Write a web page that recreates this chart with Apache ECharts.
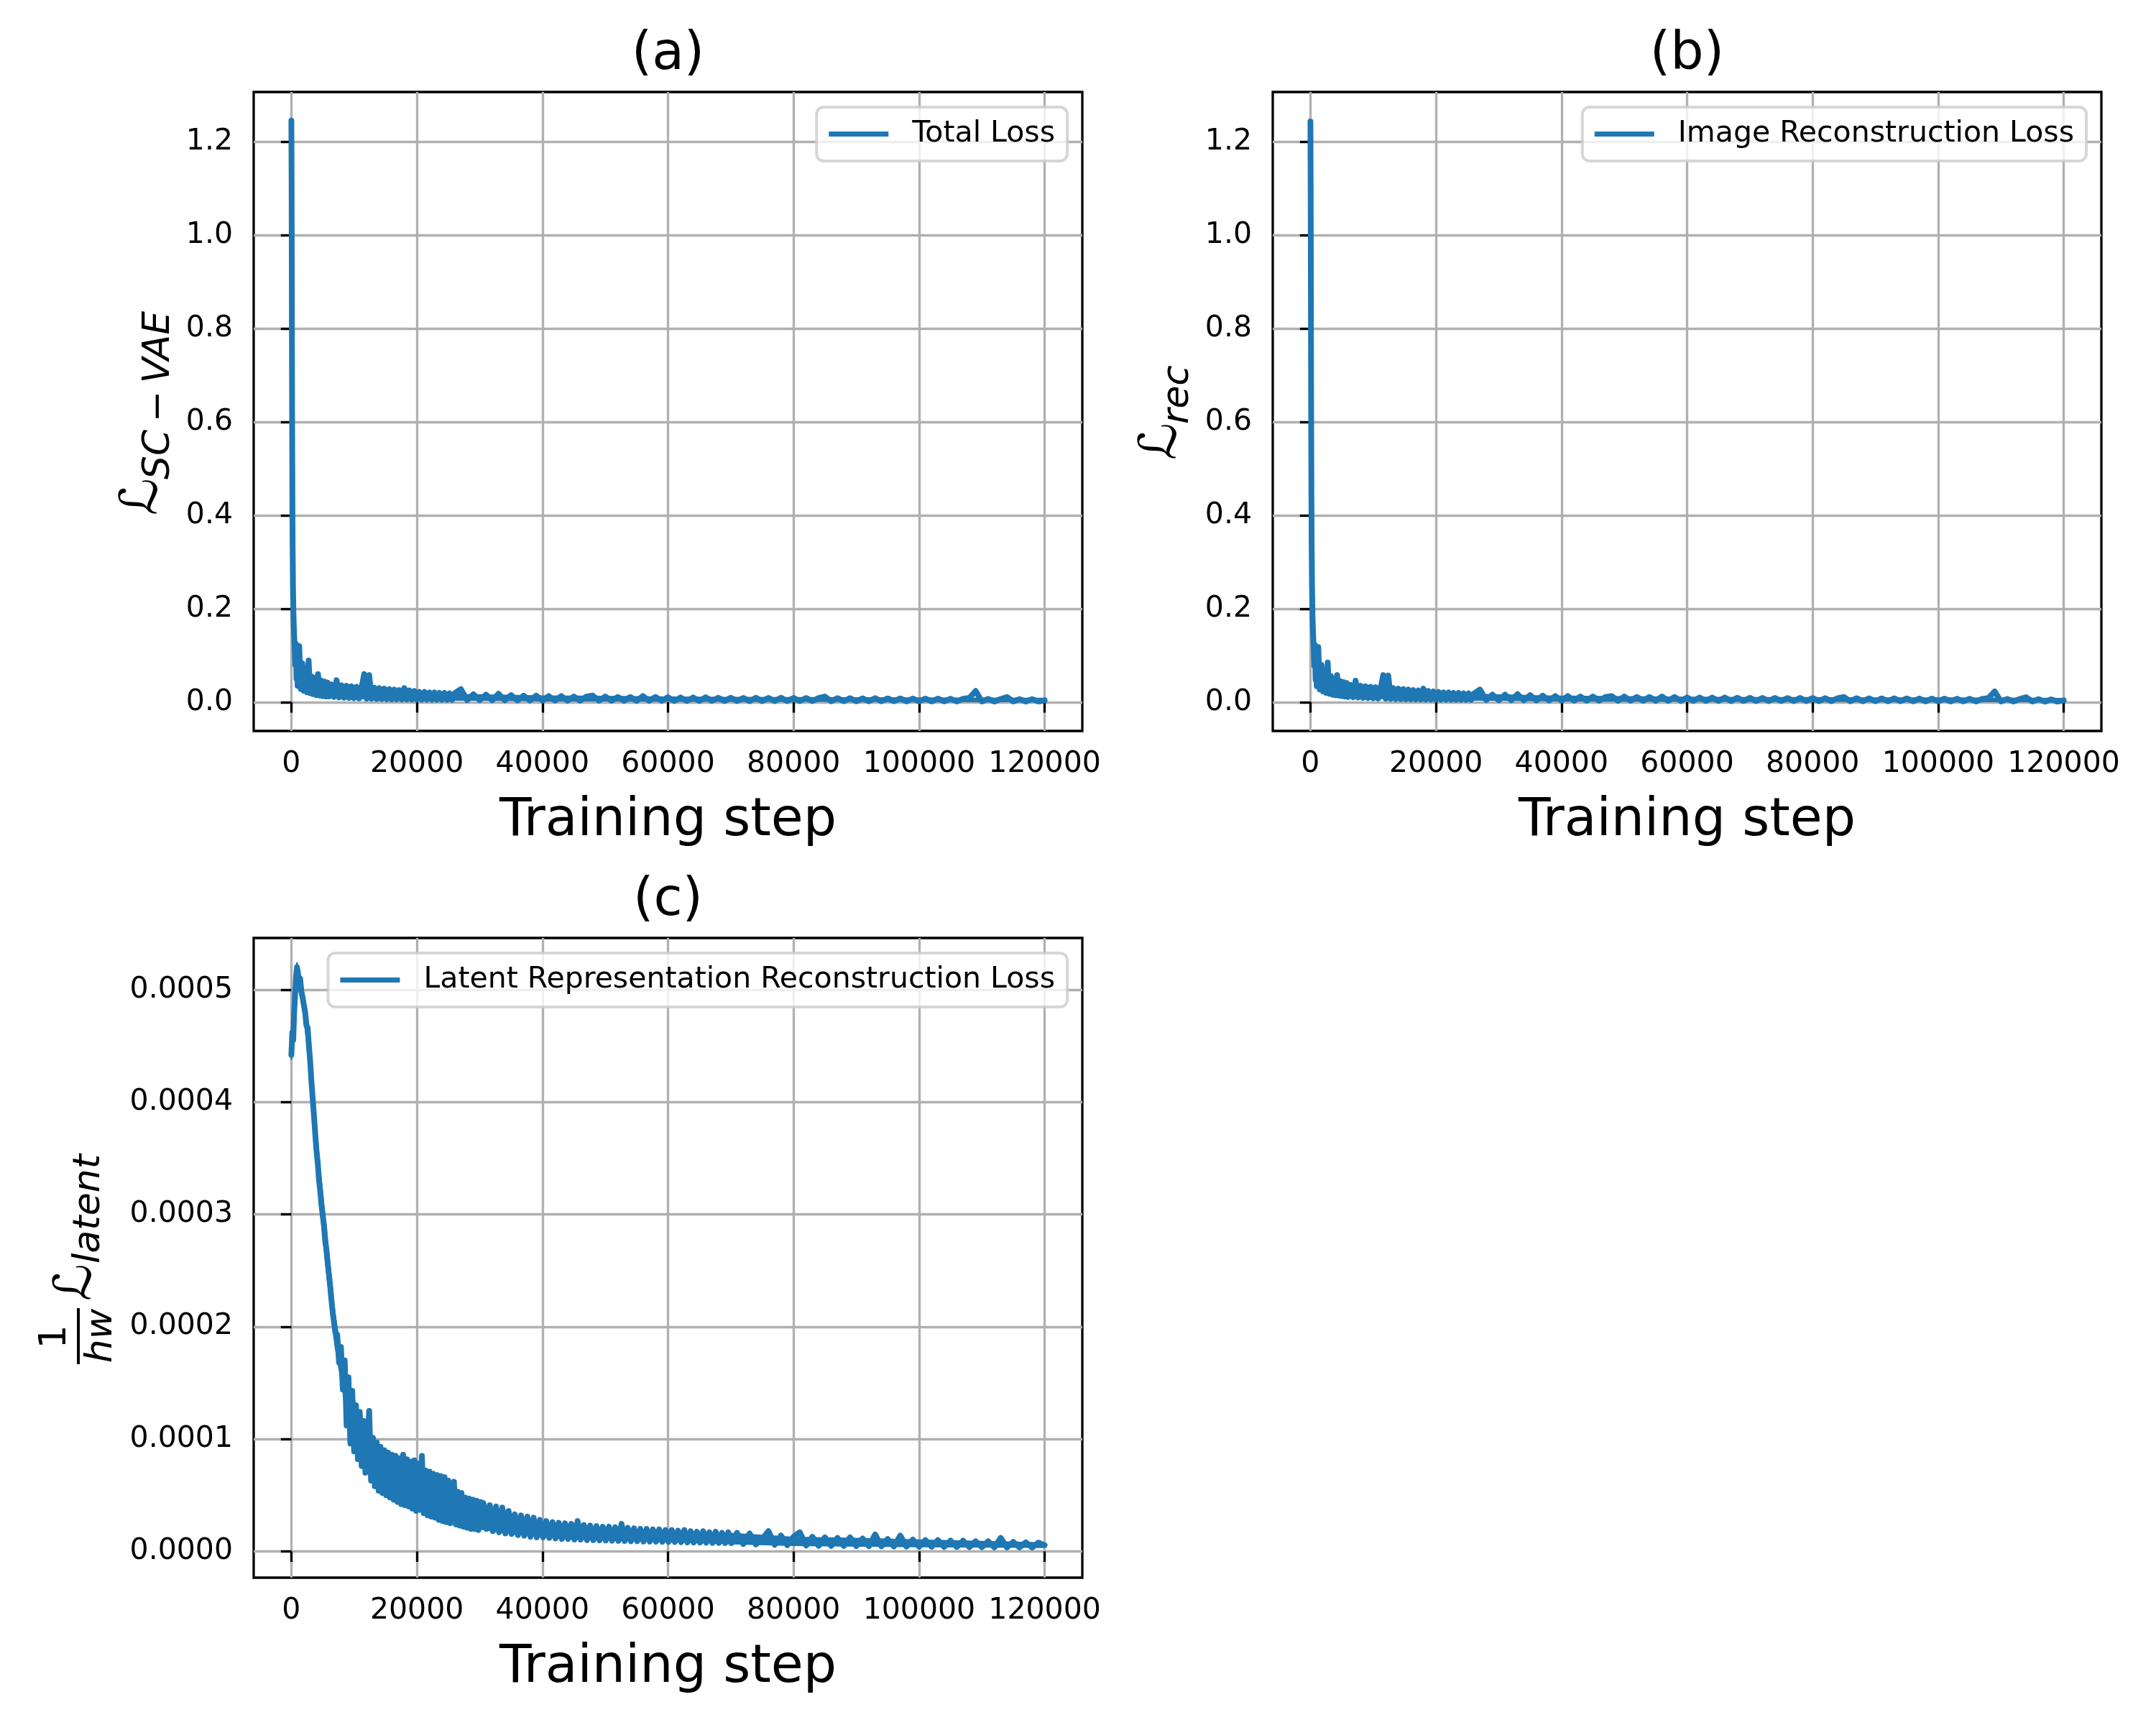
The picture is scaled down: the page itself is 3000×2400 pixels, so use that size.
<!DOCTYPE html>
<html>
<head>
<meta charset="utf-8">
<script src="https://cdn.jsdelivr.net/npm/echarts@6/dist/echarts.min.js"></script>
<style>
html,body{margin:0;padding:0;background:#ffffff;}
#chart{width:3000px;height:2400px;}
</style>
</head>
<body>
<div id="chart"></div>
<script>
// ---------------- DATA ----------------
const xTicks = [0, 20000, 40000, 60000, 80000, 100000, 120000];
const yTicksLoss = [0, 0.2, 0.4, 0.6, 0.8, 1.0, 1.2];
const yTicksLatent = [0, 0.0001, 0.0002, 0.0003, 0.0004, 0.0005];

const seriesNames = ['Total Loss', 'Image Reconstruction Loss', 'Latent Representation Reconstruction Loss'];
const panelTitles = ['(a)', '(b)', '(c)'];
const xAxisTitle = 'Training step';

// training steps for panels (a) and (b)
const stepsAB = [
  0, 40, 80, 120, 160, 200, 260, 330, 420, 520, 620, 720, 820, 920,
  1000, 1250, 1500, 1750, 2000, 2250, 2500, 2750, 3000, 3250,
  3500, 3750, 4000, 4250, 4500, 4750, 5000, 5250, 5500, 5750, 6000,
  6400, 6800, 7200, 7600, 8000, 8400, 8800, 9200, 9600, 10000,
  10400, 10800, 11200, 11600, 12000, 12400, 12800, 13200, 13600, 14000,
  14400, 14800, 15200, 15600, 16000, 16400, 16800, 17200, 17600, 18000,
  18400, 18800, 19200, 19600, 20000, 20400, 20800, 21200, 21600, 22000,
  22400, 22800, 23200, 23600, 24000, 24400, 24800, 25200, 25600, 26000,
  27000, 28000, 29000, 30000, 31000, 32000, 33000, 34000, 35000, 36000,
  37000, 38000, 39000, 40000, 41000, 42000, 43000, 44000, 45000, 46000,
  47000, 48000, 49000, 50000, 51000, 52000, 53000, 54000, 55000, 56000,
  57000, 58000, 59000, 60000, 61000, 62000, 63000, 64000, 65000, 66000,
  67000, 68000, 69000, 70000, 71000, 72000, 73000, 74000, 75000, 76000,
  77000, 78000, 79000, 80000, 81000, 82000, 83000, 84000, 85000, 86000,
  87000, 88000, 89000, 90000, 91000, 92000, 93000, 94000, 95000, 96000,
  97000, 98000, 99000, 100000, 101000, 102000, 103000, 104000, 105000, 106000,
  107000, 108000, 109000, 110000, 111000, 112000, 113000, 114000, 115000, 116000,
  117000, 118000, 119000, 120000
];

// (a) total loss
const totalLoss = [
  1.245, 1.12, 0.86, 0.62, 0.45, 0.34, 0.25, 0.19, 0.15, 0.12, 0.08, 0.125, 0.05, 0.12,
  0.035, 0.12, 0.028, 0.083, 0.024, 0.07, 0.021, 0.089, 0.019, 0.055,
  0.017, 0.052, 0.015, 0.06, 0.014, 0.046, 0.013, 0.044, 0.012, 0.042, 0.012,
  0.038, 0.011, 0.047, 0.010, 0.036, 0.0095, 0.035, 0.009, 0.034, 0.0085,
  0.033, 0.008, 0.032, 0.06, 0.0075, 0.058, 0.007, 0.031, 0.0068, 0.03,
  0.0065, 0.029, 0.0062, 0.028, 0.006, 0.027, 0.006, 0.026, 0.0058, 0.03,
  0.0056, 0.025, 0.0055, 0.024, 0.0054, 0.022, 0.0053, 0.022, 0.0052, 0.021,
  0.0051, 0.021, 0.005, 0.02, 0.005, 0.02, 0.0049, 0.019, 0.0048, 0.019,
  0.028, 0.0045, 0.017, 0.0042, 0.016, 0.004, 0.018, 0.0038, 0.015, 0.0036,
  0.014, 0.0035, 0.014, 0.0034, 0.013, 0.0033, 0.013, 0.0032, 0.012, 0.0031,
  0.012, 0.014, 0.003, 0.012, 0.003, 0.011, 0.0029, 0.011, 0.0028, 0.013,
  0.0028, 0.011, 0.0027, 0.0105, 0.0026, 0.010, 0.0026, 0.010, 0.0025, 0.0105,
  0.0025, 0.0095, 0.0024, 0.0095, 0.0024, 0.009, 0.0023, 0.0095, 0.0023, 0.009,
  0.0022, 0.0095, 0.0022, 0.009, 0.0021, 0.0088, 0.0021, 0.0088, 0.012, 0.002,
  0.0085, 0.002, 0.0085, 0.0019, 0.0082, 0.0019, 0.0085, 0.0018, 0.008, 0.0018,
  0.008, 0.0017, 0.0078, 0.0017, 0.0076, 0.0016, 0.0075, 0.0016, 0.0074, 0.0015,
  0.0072, 0.009, 0.024, 0.0014, 0.007, 0.0014, 0.0068, 0.011, 0.0013, 0.0065,
  0.0012, 0.0062, 0.0012, 0.004
];

// (b) image reconstruction loss
const recLoss = [
  1.243, 1.10, 0.84, 0.60, 0.44, 0.33, 0.245, 0.185, 0.148, 0.118, 0.078, 0.122, 0.048, 0.118,
  0.034, 0.118, 0.027, 0.08, 0.023, 0.068, 0.02, 0.085, 0.018, 0.056,
  0.016, 0.05, 0.015, 0.058, 0.014, 0.045, 0.013, 0.043, 0.012, 0.041, 0.011,
  0.037, 0.0105, 0.046, 0.0098, 0.035, 0.0093, 0.034, 0.0088, 0.033, 0.0083,
  0.032, 0.0079, 0.031, 0.058, 0.0074, 0.057, 0.0069, 0.03, 0.0066, 0.029,
  0.0064, 0.028, 0.0061, 0.027, 0.0059, 0.026, 0.0058, 0.025, 0.0057, 0.029,
  0.0055, 0.024, 0.0054, 0.023, 0.0053, 0.022, 0.0052, 0.021, 0.0051, 0.021,
  0.005, 0.02, 0.0049, 0.02, 0.0049, 0.019, 0.0048, 0.019, 0.0047, 0.018,
  0.027, 0.0044, 0.016, 0.0041, 0.016, 0.0039, 0.017, 0.0037, 0.015, 0.0035,
  0.014, 0.0034, 0.013, 0.0033, 0.013, 0.0032, 0.012, 0.0032, 0.012, 0.0031,
  0.011, 0.013, 0.003, 0.012, 0.0029, 0.011, 0.0029, 0.011, 0.0028, 0.012,
  0.0027, 0.011, 0.0027, 0.010, 0.0026, 0.010, 0.0025, 0.0098, 0.0025, 0.010,
  0.0024, 0.0095, 0.0024, 0.0092, 0.0023, 0.009, 0.0023, 0.009, 0.0022, 0.0088,
  0.0022, 0.009, 0.0021, 0.0088, 0.0021, 0.0086, 0.002, 0.0085, 0.011, 0.002,
  0.0084, 0.0019, 0.0083, 0.0019, 0.008, 0.0019, 0.0082, 0.0018, 0.0079, 0.0018,
  0.0078, 0.0017, 0.0076, 0.0017, 0.0075, 0.0016, 0.0074, 0.0016, 0.0072, 0.0015,
  0.007, 0.0088, 0.023, 0.0014, 0.0069, 0.0014, 0.0067, 0.0105, 0.0013, 0.0064,
  0.0012, 0.006, 0.0012, 0.004
];

// dense noise envelope (typical low / high) for panels (a) and (b)
const bandStepsAB = [700, 1000, 1500, 2000, 3000, 4000, 5000, 6000, 8000, 10000, 12000, 14000, 17000, 20000,
  24000, 28000, 32000, 36000, 40000, 50000, 60000, 70000, 80000, 90000, 100000, 110000, 120000];
const bandLowTotal = [0.07, 0.034, 0.027, 0.023, 0.019, 0.015, 0.013, 0.012, 0.0095, 0.0085, 0.0075, 0.0068, 0.006, 0.0054,
  0.005, 0.0045, 0.004, 0.0036, 0.003, 0.0028, 0.0025, 0.0022, 0.002, 0.0018, 0.0016, 0.0015, 0.0014];
const bandHighTotal = [0.10, 0.10, 0.075, 0.062, 0.05, 0.044, 0.04, 0.037, 0.033, 0.031, 0.029, 0.027, 0.024, 0.021,
  0.019, 0.016, 0.015, 0.014, 0.013, 0.012, 0.0105, 0.0098, 0.0095, 0.009, 0.0088, 0.0085, 0.0078];
const bandLowRec = [0.068, 0.033, 0.026, 0.022, 0.018, 0.015, 0.013, 0.011, 0.0093, 0.0083, 0.0074, 0.0066, 0.0058, 0.0053,
  0.0049, 0.0044, 0.0039, 0.0035, 0.003, 0.0027, 0.0024, 0.0022, 0.002, 0.0018, 0.0016, 0.0015, 0.0014];
const bandHighRec = [0.098, 0.098, 0.073, 0.06, 0.049, 0.043, 0.039, 0.036, 0.032, 0.03, 0.028, 0.026, 0.023, 0.02,
  0.018, 0.016, 0.015, 0.0135, 0.0125, 0.0115, 0.0102, 0.0096, 0.0093, 0.0088, 0.0086, 0.0082, 0.0076];

// training steps for panel (c)
const stepsLatent = [
  0, 150, 300, 450, 600, 750, 900, 1050, 1200, 1400,
  1600, 1800, 2000, 2200, 2400, 2600, 2800, 3000, 3200, 3400,
  3600, 3800, 4000, 4200, 4400, 4600, 4800, 5000, 5200, 5400,
  5600, 5800, 6000, 6200, 6400, 6600, 6800, 7000,
  7300, 7600, 7900, 8200, 8500, 8800, 9100, 9400, 9700, 10000,
  10300, 10600, 10900, 11200, 11500, 11800, 12100, 12400, 12700, 13000,
  13300, 13600, 13900, 14200, 14500, 14800, 15100, 15400, 15700, 16000,
  16300, 16600, 16900, 17200, 17500, 17800, 18100, 18400, 18700, 19000,
  19300, 19600, 19900, 20200, 20500, 20800, 21100, 21400, 21700, 22000,
  22300, 22600, 22900, 23200, 23500, 23800, 24100, 24400, 24700, 25000,
  25300, 25600, 25900, 26200, 26500, 26800, 27100, 27400, 27700, 28000,
  28300, 28600, 28900, 29200, 29500, 29800, 30100,
  30600, 31100, 31600, 32100, 32600, 33100, 33600, 34100, 34600, 35100,
  35600, 36100, 36600, 37100, 37600, 38100, 38600, 39100, 39600, 40100,
  40600, 41100, 41600, 42100, 42600, 43100, 43600, 44100, 44600, 45100,
  45600, 46100, 46600, 47100, 47600, 48100, 48600, 49100, 49600, 50100,
  50600, 51100, 51600, 52100, 52600, 53100, 53600, 54100, 54600, 55100,
  55600, 56100, 56600, 57100, 57600, 58100, 58600, 59100, 59600, 60100,
  60600, 61100, 61600, 62100, 62600, 63100, 63600, 64100, 64600, 65100,
  65600, 66100, 66600, 67100, 67600, 68100, 68600, 69100, 69600, 70100,
  71000, 72000, 73000, 74000, 75000, 76000, 77000, 78000, 79000, 80000,
  81000, 82000, 83000, 84000, 85000, 86000, 87000, 88000, 89000, 90000,
  91000, 92000, 93000, 94000, 95000, 96000, 97000, 98000, 99000, 100000,
  101000, 102000, 103000, 104000, 105000, 106000, 107000, 108000, 109000, 110000,
  111000, 112000, 113000, 114000, 115000, 116000, 117000, 118000, 119000, 120000
];

// (c) latent representation reconstruction loss (per h*w)
const latentLoss = [
  4.42e-4, 4.62e-4, 4.55e-4, 4.80e-4, 4.96e-4, 5.12e-4, 5.20e-4, 5.15e-4, 5.08e-4, 5.10e-4,
  4.98e-4, 4.93e-4, 4.86e-4, 4.80e-4, 4.68e-4, 4.66e-4, 4.50e-4, 4.36e-4, 4.18e-4, 4.03e-4,
  3.88e-4, 3.72e-4, 3.57e-4, 3.46e-4, 3.31e-4, 3.21e-4, 3.08e-4, 2.99e-4, 2.90e-4, 2.76e-4,
  2.68e-4, 2.56e-4, 2.46e-4, 2.35e-4, 2.23e-4, 2.12e-4, 2.04e-4, 1.95e-4,
  1.93e-4, 1.68e-4, 1.82e-4, 1.44e-4, 1.70e-4, 1.12e-4, 1.55e-4, 0.96e-4, 1.43e-4, 0.89e-4,
  1.30e-4, 0.82e-4, 1.24e-4, 0.76e-4, 1.16e-4, 0.70e-4, 0.92e-4, 1.25e-4, 0.63e-4, 1.01e-4,
  0.58e-4, 0.97e-4, 0.54e-4, 0.93e-4, 0.52e-4, 0.90e-4, 0.50e-4, 0.88e-4, 0.48e-4, 0.86e-4,
  0.46e-4, 0.85e-4, 0.44e-4, 0.83e-4, 0.42e-4, 0.86e-4, 0.41e-4, 0.82e-4, 0.40e-4, 0.80e-4,
  0.38e-4, 0.81e-4, 0.36e-4, 0.78e-4, 0.37e-4, 0.85e-4, 0.34e-4, 0.72e-4, 0.32e-4, 0.71e-4,
  0.31e-4, 0.69e-4, 0.30e-4, 0.68e-4, 0.28e-4, 0.67e-4, 0.27e-4, 0.66e-4, 0.26e-4, 0.63e-4,
  0.25e-4, 0.50e-4, 0.62e-4, 0.24e-4, 0.53e-4, 0.23e-4, 0.52e-4, 0.22e-4, 0.48e-4, 0.21e-4,
  0.47e-4, 0.20e-4, 0.46e-4, 0.20e-4, 0.45e-4, 0.19e-4, 0.44e-4,
  0.43e-4, 0.20e-4, 0.41e-4, 0.18e-4, 0.40e-4, 0.17e-4, 0.39e-4, 0.16e-4, 0.36e-4, 0.155e-4,
  0.33e-4, 0.145e-4, 0.32e-4, 0.14e-4, 0.31e-4, 0.13e-4, 0.30e-4, 0.125e-4, 0.28e-4, 0.125e-4,
  0.27e-4, 0.12e-4, 0.26e-4, 0.115e-4, 0.255e-4, 0.11e-4, 0.25e-4, 0.11e-4, 0.245e-4, 0.105e-4,
  0.27e-4, 0.105e-4, 0.235e-4, 0.10e-4, 0.23e-4, 0.10e-4, 0.225e-4, 0.098e-4, 0.22e-4, 0.097e-4,
  0.22e-4, 0.095e-4, 0.215e-4, 0.094e-4, 0.245e-4, 0.092e-4, 0.21e-4, 0.09e-4, 0.205e-4, 0.09e-4,
  0.20e-4, 0.088e-4, 0.20e-4, 0.087e-4, 0.195e-4, 0.086e-4, 0.195e-4, 0.085e-4, 0.19e-4, 0.084e-4,
  0.19e-4, 0.083e-4, 0.185e-4, 0.082e-4, 0.19e-4, 0.08e-4, 0.18e-4, 0.079e-4, 0.175e-4, 0.078e-4,
  0.18e-4, 0.077e-4, 0.17e-4, 0.076e-4, 0.175e-4, 0.075e-4, 0.165e-4, 0.074e-4, 0.17e-4, 0.073e-4,
  0.165e-4, 0.065e-4, 0.16e-4, 0.062e-4, 0.11e-4, 0.18e-4, 0.058e-4, 0.14e-4, 0.055e-4, 0.13e-4,
  0.17e-4, 0.052e-4, 0.13e-4, 0.05e-4, 0.125e-4, 0.049e-4, 0.12e-4, 0.048e-4, 0.125e-4, 0.047e-4,
  0.115e-4, 0.046e-4, 0.15e-4, 0.045e-4, 0.11e-4, 0.044e-4, 0.14e-4, 0.043e-4, 0.105e-4, 0.042e-4,
  0.10e-4, 0.041e-4, 0.10e-4, 0.04e-4, 0.095e-4, 0.039e-4, 0.095e-4, 0.038e-4, 0.09e-4, 0.037e-4,
  0.09e-4, 0.036e-4, 0.12e-4, 0.035e-4, 0.085e-4, 0.035e-4, 0.08e-4, 0.034e-4, 0.078e-4, 0.055e-4
];

// noise envelope (typical low / high) for panel (c)
const bandStepsLatent = [0, 300, 600, 900, 1200, 1600, 2000, 2400, 2800, 3200, 3600, 4000, 4500, 5000, 5500, 6000, 6500,
  7000, 8000, 9000, 10000, 11000, 12000, 14000, 16000, 18000, 20000, 22000, 24000, 26000, 28000,
  30000, 33000, 36000, 40000, 45000, 50000, 55000, 60000, 65000, 70000, 80000, 90000, 100000, 110000, 120000];
const bandLowLatent = [4.38e-4, 4.45e-4, 4.80e-4, 5.12e-4, 5.00e-4, 4.90e-4, 4.76e-4, 4.56e-4, 4.32e-4, 4.02e-4, 3.72e-4, 3.42e-4, 3.10e-4, 2.83e-4, 2.56e-4, 2.30e-4, 2.04e-4,
  1.82e-4, 1.5e-4, 1.15e-4, 0.95e-4, 0.82e-4, 0.72e-4, 0.58e-4, 0.49e-4, 0.43e-4, 0.39e-4, 0.33e-4, 0.29e-4, 0.26e-4, 0.22e-4,
  0.20e-4, 0.175e-4, 0.15e-4, 0.13e-4, 0.11e-4, 0.10e-4, 0.092e-4, 0.086e-4, 0.078e-4, 0.068e-4, 0.054e-4, 0.048e-4, 0.043e-4, 0.039e-4, 0.036e-4];
const bandHighLatent = [4.52e-4, 4.75e-4, 5.10e-4, 5.24e-4, 5.17e-4, 5.06e-4, 4.96e-4, 4.82e-4, 4.66e-4, 4.36e-4, 4.06e-4, 3.76e-4, 3.44e-4, 3.16e-4, 2.90e-4, 2.62e-4, 2.34e-4,
  2.08e-4, 1.75e-4, 1.5e-4, 1.35e-4, 1.2e-4, 1.05e-4, 0.9e-4, 0.83e-4, 0.79e-4, 0.74e-4, 0.68e-4, 0.64e-4, 0.5e-4, 0.45e-4,
  0.42e-4, 0.37e-4, 0.31e-4, 0.26e-4, 0.23e-4, 0.21e-4, 0.195e-4, 0.185e-4, 0.17e-4, 0.16e-4, 0.125e-4, 0.115e-4, 0.10e-4, 0.088e-4, 0.075e-4];

// ---------------- STYLE / LAYOUT ----------------
const FONT = '"DejaVu Sans", sans-serif';
const LINE_COLOR = '#1f77b4';
const GRID_COLOR = '#b0b0b0';
const LINE_WIDTH = 8;
const grids = [
  { left: 353, top: 128, width: 1153, height: 889 },
  { left: 1771, top: 128, width: 1153, height: 889 },
  { left: 353, top: 1305, width: 1153, height: 890 }
];

function pairs(xs, ys) {
  if (xs.length !== ys.length) console.error('length mismatch', xs.length, ys.length);
  return xs.map((x, i) => [x, ys[i]]);
}

function xAxisFor(i) {
  return {
    gridIndex: i, type: 'value', min: -6000, max: 126000,
    axisLine: { show: false },
    axisTick: { show: true, inside: false, length: 14.6, customValues: xTicks,
      lineStyle: { color: '#000', width: 3.3 } },
    axisLabel: { show: true, customValues: xTicks, fontSize: 41, color: '#000',
      fontFamily: FONT, margin: 26, formatter: v => String(v) },
    splitLine: { show: true, lineStyle: { color: GRID_COLOR, width: 3.3 } },
    name: xAxisTitle, nameLocation: 'middle', nameGap: 90, nameMoveOverlap: false,
    nameTextStyle: { fontSize: 73, color: '#000', fontFamily: FONT }
  };
}

function yAxisFor(i, min, max, ticks, digits) {
  return {
    gridIndex: i, type: 'value', min: min, max: max,
    axisLine: { show: false },
    axisTick: { show: true, inside: false, length: 14.6, customValues: ticks,
      lineStyle: { color: '#000', width: 3.3 } },
    axisLabel: { show: true, customValues: ticks, fontSize: 41, color: '#000',
      fontFamily: FONT, margin: 29, formatter: v => Number(v).toFixed(digits) },
    splitLine: { show: true, lineStyle: { color: GRID_COLOR, width: 3.3 } }
  };
}

function lineSeries(name, idx, data) {
  return {
    type: 'line', name: name, xAxisIndex: idx, yAxisIndex: idx, data: data,
    symbol: 'none', showSymbol: false, silent: true, animation: false, z: 3,
    lineStyle: { color: LINE_COLOR, width: LINE_WIDTH, join: 'round', cap: 'round' },
    itemStyle: { color: LINE_COLOR }
  };
}

// filled noise band between the low and high envelopes, positioned via the axes' scales
function bandSeries(name, idx, steps, low, high) {
  if (steps.length !== low.length || steps.length !== high.length) console.error('band length mismatch', name);
  return {
    type: 'custom', name: name + ' band', xAxisIndex: idx, yAxisIndex: idx,
    silent: true, animation: false, z: 2, clip: true,
    data: steps.map((s, i) => [s, low[i], high[i]]),
    encode: { x: 0, y: [1, 2] },
    renderItem: function (params, api) {
      if (params.dataIndex !== 0) return null;
      const pts = [];
      for (let i = 0; i < steps.length; i++) pts.push(api.coord([steps[i], high[i]]));
      for (let i = steps.length - 1; i >= 0; i--) pts.push(api.coord([steps[i], low[i]]));
      return { type: 'polygon', shape: { points: pts },
        style: { fill: LINE_COLOR, stroke: LINE_COLOR, lineWidth: 2, lineJoin: 'round' } };
    }
  };
}

function legendFor(name, right, top) {
  return {
    data: [name], right: right, top: top, orient: 'horizontal',
    icon: 'rect', itemWidth: 83, itemHeight: 7, selectedMode: false,
    padding: [17, 17, 17, 17],
    backgroundColor: 'rgba(255,255,255,0.8)',
    borderColor: 'rgba(204,204,204,0.8)', borderWidth: 4, borderRadius: 10,
    itemStyle: { color: LINE_COLOR },
    textStyle: { fontSize: 41, color: '#000', fontFamily: FONT, lineHeight: 35,
      padding: [0, 0, 0, 28] }
  };
}

function txt(text, x, y, size, opts) {
  return {
    type: 'text', x: x, y: y,
    style: Object.assign({ text: text, fontSize: size, fontFamily: FONT, fill: '#000',
      align: 'left', verticalAlign: 'middle' }, opts || {})
  };
}

const graphics = [
  txt(panelTitles[0], grids[0].left + grids[0].width / 2, 77, 73, { align: 'center' }),
  txt(panelTitles[1], grids[1].left + grids[1].width / 2, 77, 73, { align: 'center' }),
  txt(panelTitles[2], grids[2].left + grids[2].width / 2, 1254, 73, { align: 'center' }),
  { type: 'group', x: 199, y: 717, rotation: Math.PI / 2, children: [
    txt('\u2112', 0, 0, 72),
    txt('SC\u2009\u2212\u2009VAE', 50, 22, 52, { fontStyle: 'italic' })
  ]},
  { type: 'group', x: 1617, y: 640, rotation: Math.PI / 2, children: [
    txt('\u2112', 0, 0, 72),
    txt('rec', 50, 22, 52, { fontStyle: 'italic' })
  ]},
  { type: 'group', x: 109, y: 1898, rotation: Math.PI / 2, children: [
    { type: 'line', shape: { x1: 0, y1: 0, x2: 78, y2: 0 }, style: { stroke: '#000', lineWidth: 4 } },
    txt('1', 38, -31.6, 52, { align: 'center' }),
    txt('hw', 39.5, 32.4, 52, { align: 'center', fontStyle: 'italic' }),
    txt('\u2112', 88, -2, 72),
    txt('latent', 140, 15.4, 52, { fontStyle: 'italic' })
  ]}
];

const option = {
  backgroundColor: '#ffffff',
  animation: false,
  grid: grids.map(g => Object.assign({
    containLabel: false, outerBoundsMode: 'none', show: true,
    borderColor: '#000', borderWidth: 3.3, backgroundColor: 'transparent'
  }, g)),
  xAxis: [xAxisFor(0), xAxisFor(1), xAxisFor(2)],
  yAxis: [
    yAxisFor(0, -0.0617, 1.3062, yTicksLoss, 1),
    yAxisFor(1, -0.0617, 1.3062, yTicksLoss, 1),
    yAxisFor(2, -0.0000234, 0.000546, yTicksLatent, 4)
  ],
  legend: [
    legendFor(seriesNames[0], 1515, 149),
    legendFor(seriesNames[1], 97, 149),
    legendFor(seriesNames[2], 1515, 1326)
  ],
  series: [
    lineSeries(seriesNames[0], 0, pairs(stepsAB, totalLoss)),
    lineSeries(seriesNames[1], 1, pairs(stepsAB, recLoss)),
    lineSeries(seriesNames[2], 2, pairs(stepsLatent, latentLoss)),
    bandSeries(seriesNames[0], 0, bandStepsAB, bandLowTotal, bandHighTotal),
    bandSeries(seriesNames[1], 1, bandStepsAB, bandLowRec, bandHighRec),
    bandSeries(seriesNames[2], 2, bandStepsLatent, bandLowLatent, bandHighLatent)
  ],
  graphic: graphics
};

const chart = echarts.init(document.getElementById('chart'), null, { renderer: 'canvas', width: 3000, height: 2400 });
chart.setOption(option);
</script>
</body>
</html>
